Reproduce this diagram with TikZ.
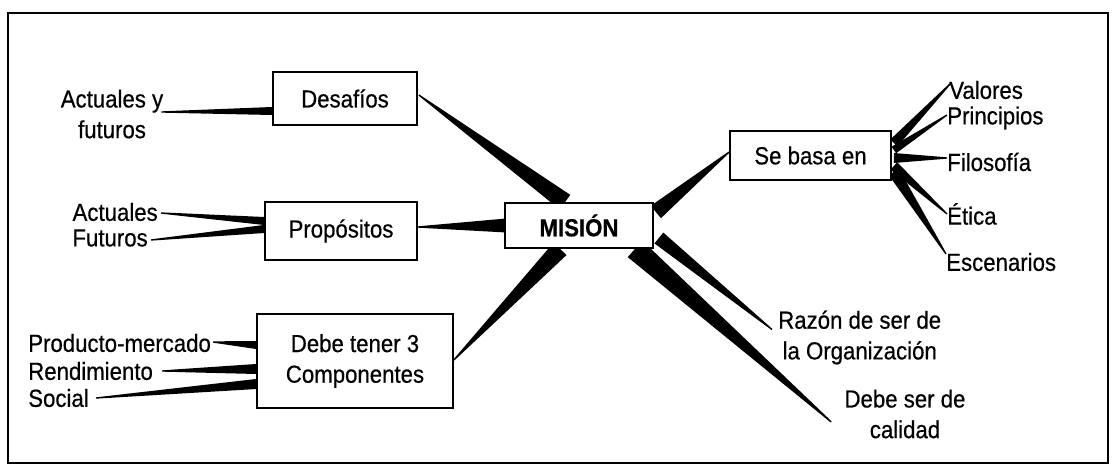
\documentclass[tikz,border=0pt]{standalone}
\usepackage{fontspec}
\setmainfont{Liberation Sans}[FakeStretch=0.9, FakeBold=0.5]
\usetikzlibrary{calc,backgrounds}

% tapered connector: thin end #1, thick end #2, half width #3 at the thick end
\newcommand\taper[3]{%
  \fill ($(#1)!0.5pt!90:(#2)$) -- ($(#1)!0.5pt!-90:(#2)$)
     -- ($(#2)!#3!90:(#1)$) -- ($(#2)!#3!-90:(#1)$) -- cycle;}

\tikzset{
  box/.style={draw, line width=1.3pt, fill=white, inner sep=0pt, align=center},
  lbl/.style={inner sep=0pt, align=center},
}

\begin{document}
\begin{tikzpicture}[x=0.75pt, y=-0.75pt, font=\fontsize{18.5}{23}\selectfont]
\useasboundingbox (0,0) rectangle (1118,467);
\draw[line width=1.5pt] (8,13) rectangle (1108,463);

% boxes
\node[box, minimum width=108pt, minimum height=39.75pt] (desafios) at (345,98.5) {Desafíos};
\node[box, minimum width=114pt, minimum height=43.5pt] (propositos) at (341,231) {Propósitos};
\node[box, minimum width=111pt, minimum height=33.75pt] (mision) at (579,225.5) {\bfseries MISIÓN};
\node[box, minimum width=147pt, minimum height=70.5pt] (debe) at (355,361) {Debe tener 3\\Componentes};
\node[box, minimum width=120.75pt, minimum height=36.75pt] (sebasa) at (810.5,155.5) {Se basa en};

% labels
\node[lbl] (actY) at (112,114) {Actuales y\\futuros};
\node[lbl, anchor=east] (actuales) at (158,212) {Actuales};
\node[lbl, anchor=east] (futuros) at (148,238) {Futuros};
\node[lbl, anchor=west] (producto) at (28,343) {Producto-mercado};
\node[lbl, anchor=west] (rendimiento) at (28,371) {Rendimiento};
\node[lbl, anchor=west] (social) at (28,398) {Social};
\node[lbl, anchor=west] (valores) at (949,90) {Valores};
\node[lbl, anchor=west] (principios) at (947,118) {Principios};
\node[lbl, anchor=west] (filosofia) at (947,162) {Filosofía};
\node[lbl, anchor=west] (etica) at (947,214) {Ética};
\node[lbl, anchor=west] (escenarios) at (946,262) {Escenarios};
\node[lbl, anchor=west] (razon) at (778,337.5) {Razón de ser de\\la Organización};
\node[lbl] (calidad) at (905,414) {Debe ser de\\calidad};

\begin{scope}[on background layer]
  % left branches
  \taper{$(actY.east)+(-2,-2)$}{$(desafios.west)+(0,12.5)$}{3pt}
  \taper{$(actuales.east)+(3,1)$}{$(propositos.west)+(0,-10)$}{3pt}
  \taper{$(futuros.east)+(3,2)$}{$(propositos.west)+(0,-2)$}{3pt}
  \taper{$(producto.east)+(2,-1)$}{$(debe.west)+(0,-16)$}{3pt}
  \taper{$(rendimiento.east)+(9,0)$}{$(debe.west)+(0,8)$}{3.75pt}
  \taper{$(social.east)+(7,0)$}{$(debe.west)+(0,23)$}{3.75pt}
  % into MISIÓN
  \taper{$(desafios.east)+(1,-3.5)$}{$(mision.north)+(-14,0)$}{6.75pt}
  \taper{$(propositos.east)+(0,-4)$}{$(mision.west)+(2,0)$}{5.25pt}
  \taper{$(debe.east)+(0,-1)$}{$(mision.south)+(-19,0)$}{6.75pt}
  % out of MISIÓN
  \taper{$(sebasa.west)+(0,-3.5)$}{$(mision.east)+(2,-13.5)$}{6pt}
  \taper{$(razon.west)+(-6,-8)$}{$(mision.east)+(5,12.5)$}{5.25pt}
  \taper{$(calidad.west)+(-13,8)$}{$(mision.south)+(56,0)$}{8.25pt}
  % right fan
  \taper{$(valores.west)+(2,-7)$}{$(sebasa.east)+(2,-12.5)$}{3.75pt}
  \taper{$(principios.west)+(0,-3)$}{$(sebasa.east)+(2,-5.5)$}{3pt}
  \taper{$(filosofia.west)+(0,-4)$}{$(sebasa.east)+(2,2.5)$}{3.75pt}
  \taper{$(etica.west)+(0,0)$}{$(sebasa.east)+(2,10.5)$}{3.75pt}
  \taper{$(escenarios.west)+(0,-8)$}{$(sebasa.east)+(2,16.5)$}{4.5pt}
\end{scope}
\end{tikzpicture}
\end{document}
